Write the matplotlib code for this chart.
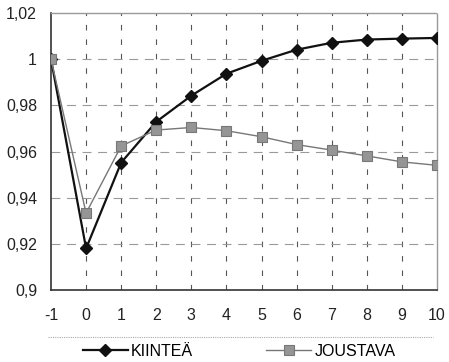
import matplotlib
matplotlib.use("Agg")
import matplotlib.pyplot as plt
from matplotlib.lines import Line2D
from matplotlib.ticker import FixedLocator, FuncFormatter

plt.rcParams['font.family'] = ['Liberation Sans', 'DejaVu Sans']
plt.rcParams['axes.unicode_minus'] = False

years = [-1, 0, 1, 2, 3, 4, 5, 6, 7, 8, 9, 10]
kiintea = [1.000, 0.918, 0.9552, 0.9729, 0.9842, 0.9937, 0.9993, 1.0041, 1.0071, 1.0085, 1.0089, 1.0092]
joustava = [1.000, 0.9333, 0.9624, 0.9693, 0.9704, 0.9690, 0.9664, 0.9630, 0.9606, 0.9581, 0.9555, 0.9540]
y_ticks = [0.90, 0.92, 0.94, 0.96, 0.98, 1.00, 1.02]

fig = plt.figure(figsize=(4.49, 3.62), dpi=100)
ax = fig.add_axes([51 / 449, 1 - 290 / 362, 386 / 449, 277 / 362])

ax.set_xlim(-1, 10)
ax.set_ylim(0.90, 1.02)

# grid: dark dashed verticals, lighter dashed horizontals
for x in years[1:-1]:
    ax.axvline(x, color='#555555', lw=0.8, ls=(0, (5, 8)), zorder=1)
for y in y_ticks[1:-1]:
    ax.axhline(y, color='#9a9a9a', lw=0.8, ls=(0, (8, 6)), zorder=1)

ax.plot(years, kiintea, color='#111111', lw=1.6, marker='D', ms=6.5,
        mfc='#111111', mec='#111111', label='KIINTEÄ', zorder=3)
ax.plot(years, joustava, color='#777777', lw=1.0, marker='s', ms=7,
        mfc='#959595', mec='#777777', mew=0.8, label='JOUSTAVA', zorder=4)

ax.xaxis.set_major_locator(FixedLocator(years))
ax.xaxis.set_major_formatter(FuncFormatter(lambda v, p: f"{int(v)}"))
ax.yaxis.set_major_locator(FixedLocator(y_ticks))
ax.yaxis.set_major_formatter(FuncFormatter(lambda v, p: f"{v:g}".replace('.', ',')))
ax.tick_params(axis='both', labelsize=11.5, length=0, colors='#222222')
ax.tick_params(axis='x', pad=13)
ax.tick_params(axis='y', pad=10)

for side in ('left', 'bottom'):
    ax.spines[side].set_color('#333333')
    ax.spines[side].set_linewidth(1.2)
for side in ('top', 'right'):
    ax.spines[side].set_color('#999999')
    ax.spines[side].set_linewidth(1.0)
    ax.spines[side].set_linestyle((0, (1, 1)))

# legend strip below the plot, with only its top border showing
fig.add_artist(Line2D([48 / 449, 433 / 449], [1 - 337 / 362] * 2,
                      transform=fig.transFigure, color='#aaaaaa', lw=0.8,
                      ls=(0, (1, 1))))
leg = fig.legend(loc='center', bbox_to_anchor=(239 / 449, 1 - 351 / 362),
                 ncol=2, fontsize=11.5, handlelength=2.8,
                 handletextpad=0.2, columnspacing=4.6, frameon=False,
                 borderpad=0, borderaxespad=0)

fig.savefig('out.png', dpi=100)
